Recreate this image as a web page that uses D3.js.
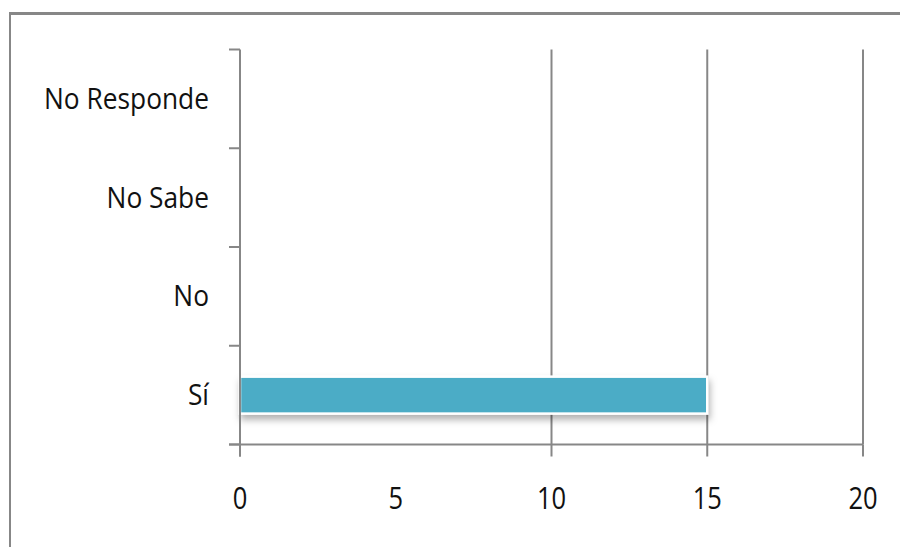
<!DOCTYPE html>
<html>
<head>
<meta charset="utf-8">
<script src="https://cdn.jsdelivr.net/npm/d3@7"></script>
<style>
  html, body { margin: 0; padding: 0; background: #fff; }
  svg { display: block; }
  text { font-family: "Open Sans", "Liberation Sans", sans-serif; fill: #111; }
</style>
</head>
<body>
<svg id="chart" width="900" height="547"></svg>
<script>
// Survey answers (top to bottom) and their counts
const categories = ["No Responde", "No Sabe", "No", "Sí"];
const counts = [0, 0, 0, 15];
// Value axis labels and the values that carry a vertical grid line / tick mark
const tickValues = [0, 5, 10, 15, 20];
const gridValues = [10, 15, 20];
const markValues = [0, 10, 15, 20];

const svg = d3.select("#chart");
const W = 900, H = 547;
const plot = { left: 240, right: 863, top: 49.5, bottom: 444.5 };
const axisColor = "#878787";

// shadow under the bar
const defs = svg.append("defs");
const f = defs.append("filter").attr("id", "barShadow")
  .attr("x", "-5%").attr("y", "-40%").attr("width", "110%").attr("height", "200%");
f.append("feDropShadow").attr("dx", 1.5).attr("dy", 5).attr("stdDeviation", 3.5)
  .attr("flood-color", "#000").attr("flood-opacity", 0.3);

// chart frame (top and left edges are visible)
svg.append("line").attr("x1", 9).attr("x2", W).attr("y1", 13.5).attr("y2", 13.5)
  .attr("stroke", axisColor).attr("stroke-width", 3);
svg.append("line").attr("x1", 10).attr("x2", 10).attr("y1", 12).attr("y2", H)
  .attr("stroke", axisColor).attr("stroke-width", 2);

const x = d3.scaleLinear().domain([0, 20]).range([plot.left, plot.right]);
const y = d3.scaleBand().domain(categories).range([plot.top, plot.bottom])
  .paddingInner(0.626).paddingOuter(0.313);
const step = y.step();

// vertical grid lines
svg.append("g").selectAll("line").data(gridValues).join("line")
  .attr("x1", d => x(d)).attr("x2", d => x(d))
  .attr("y1", plot.top).attr("y2", plot.bottom)
  .attr("stroke", axisColor).attr("stroke-width", 2);

// bars
const data = categories.map((c, i) => ({ c, v: counts[i] }));
svg.append("g").selectAll("rect").data(data.filter(d => d.v > 0)).join("rect")
  .attr("x", x(0)).attr("y", d => y(d.c))
  .attr("width", d => x(d.v) - x(0)).attr("height", y.bandwidth())
  .attr("fill", "#4BACC6").attr("stroke", "#fff").attr("stroke-width", 2.5)
  .attr("filter", "url(#barShadow)");

// category axis: line plus tick marks on band boundaries
const bounds = d3.range(categories.length + 1).map(i => plot.top + i * step);
svg.append("line").attr("x1", plot.left).attr("x2", plot.left)
  .attr("y1", plot.top).attr("y2", plot.bottom + 12)
  .attr("stroke", axisColor).attr("stroke-width", 2);
svg.append("g").selectAll("line").data(bounds).join("line")
  .attr("x1", plot.left - 11).attr("x2", plot.left)
  .attr("y1", d => d).attr("y2", d => d)
  .attr("stroke", axisColor).attr("stroke-width", 2);

// value axis line and tick marks
svg.append("line").attr("x1", plot.left - 11).attr("x2", plot.right)
  .attr("y1", plot.bottom).attr("y2", plot.bottom)
  .attr("stroke", axisColor).attr("stroke-width", 2);
svg.append("g").selectAll("line").data(markValues).join("line")
  .attr("x1", d => x(d)).attr("x2", d => x(d))
  .attr("y1", plot.bottom).attr("y2", plot.bottom + 12)
  .attr("stroke", axisColor).attr("stroke-width", 2);

// category labels
svg.append("g").selectAll("g").data(categories).join("g")
  .attr("transform", d => `translate(209,${y(d) + y.bandwidth() / 2 + 10}) scale(0.94,1.04)`)
  .append("text").attr("text-anchor", "end").attr("font-size", 28).text(d => d);

// value labels
svg.append("g").selectAll("g").data(tickValues).join("g")
  .attr("transform", d => `translate(${x(d)},509) scale(0.88,1.04)`)
  .append("text").attr("text-anchor", "middle").attr("font-size", 29).text(d => d);
</script>
</body>
</html>
